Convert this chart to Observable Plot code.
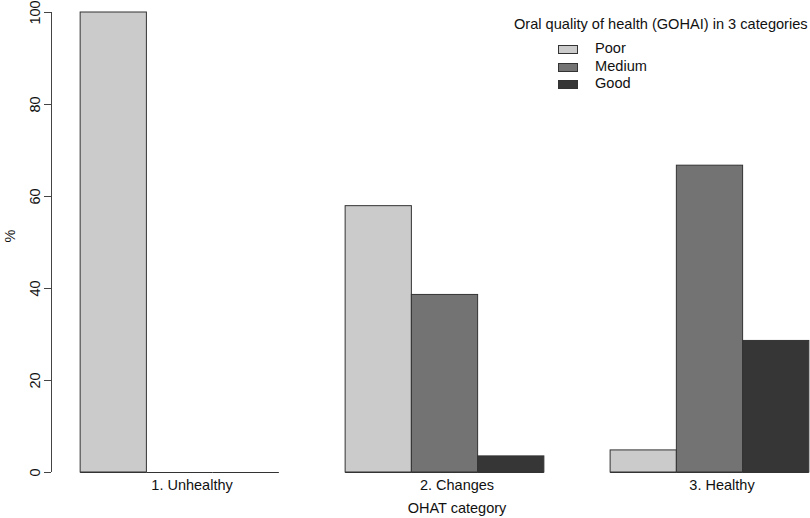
<!DOCTYPE html>
<html><head><meta charset="utf-8">
<script src="https://cdn.jsdelivr.net/npm/d3@7"></script>
<script src="https://cdn.jsdelivr.net/npm/@observablehq/plot@0.6"></script>
<style>
body{margin:0;background:#fff;font-family:"Liberation Sans",Arial,Helvetica,sans-serif;}
#wrap{position:relative;width:810px;height:518px;overflow:hidden;}
.legend{position:absolute;left:514px;top:16px;font-size:14.6px;color:#111;line-height:17px;}
.legend .row{position:relative;height:17.5px;}
.legend .sw{position:absolute;left:44px;width:18px;height:7px;border:1px solid #333;top:0px;}
.legend .lab{position:absolute;left:81px;top:-5px;}
</style></head>
<body><div id="wrap"></div>
<script>
const groups = ["1. Unhealthy", "2. Changes", "3. Healthy"];
const seriesNames = ["Poor", "Medium", "Good"];
const poor = [100, 57.9, 4.8];
const medium = [0, 38.6, 66.7];
const good = [0, 3.5, 28.6];
const seriesColors = ["#cbcbcb", "#737373", "#363636"];
const yTicks = [0, 20, 40, 60, 80, 100];
const xTitle = "OHAT category";
const yTitle = "%";
const legendTitle = "Oral quality of health (GOHAI) in 3 categories";

const values = [poor, medium, good];
const bars = [];
groups.forEach((g, gi) => seriesNames.forEach((s, si) => {
  bars.push({group: g, series: s, value: values[si][gi], x1: gi * 4 + si + 1, x2: gi * 4 + si + 2});
}));
const centers = groups.map((g, gi) => ({group: g, x: gi * 4 + 2.5}));
const xmin = d3.min(bars, d => d.x1), xmax = d3.max(bars, d => d.x2);
const pad = (xmax - xmin) * 0.04;
const xDomain = [xmin - pad, xmax + pad];
const fs = 14.5;

const chart = Plot.plot({
  width: 810, height: 518,
  marginLeft: 51, marginRight: 0, marginTop: 12, marginBottom: 46,
  x: {type: "linear", domain: xDomain, range: [51, 838], axis: null},
  y: {domain: [0, 100], axis: null},
  color: {domain: seriesNames, range: seriesColors},
  style: {fontFamily: '"Liberation Sans", Arial, sans-serif', fontSize: "14px", color: "#111", background: "#fff", overflow: "visible"},
  marks: [
    Plot.rect(bars, {x1: "x1", x2: "x2", y1: 0, y2: "value", fill: "series", stroke: "#333", strokeWidth: 1}),
    Plot.ruleY(bars, {y: 0, x1: "x1", x2: "x2", stroke: "#333", strokeWidth: 1}),
    Plot.ruleX([xDomain[0]], {x: d => d, y1: 0, y2: 100, stroke: "#444"}),
    Plot.axisY({ticks: yTicks, tickSize: 7, tickFormat: () => "", label: null, stroke: "#444"}),
    Plot.text(yTicks, {x: xDomain[0], y: d => d, text: d => String(d), rotate: -90, dx: -16, fontSize: fs, fill: "#111"}),
    Plot.text([yTitle], {frameAnchor: "left", dx: -41, rotate: -90, fontSize: fs, fill: "#111"}),
    Plot.text(centers, {x: "x", y: 0, text: "group", dx: 12, dy: 13, fontSize: fs, fill: "#111"}),
    Plot.text([xTitle], {x: (xmin + xmax) / 2, y: 0, text: d => d, dx: 12, dy: 36, fontSize: fs, fill: "#111"})
  ]
});
const wrap = document.getElementById("wrap");
wrap.appendChild(chart);

const leg = document.createElement("div");
leg.className = "legend";
let html = `<div style="margin-bottom:12px">${legendTitle}</div>`;
seriesNames.forEach((s, i) => {
  html += `<div class="row"><div class="sw" style="background:${seriesColors[i]}"></div><div class="lab">${s}</div></div>`;
});
leg.innerHTML = html;
wrap.appendChild(leg);
</script>
</body></html>
